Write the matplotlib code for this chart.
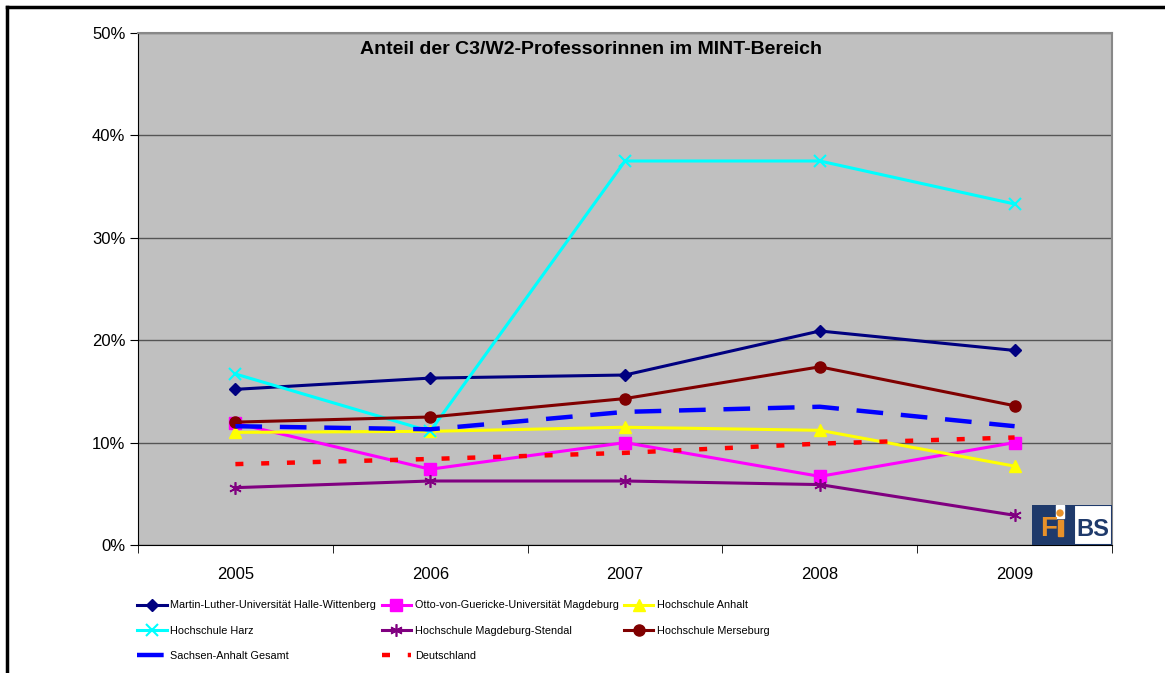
import matplotlib
matplotlib.use("Agg")
import matplotlib.pyplot as plt
from matplotlib.patches import Rectangle, Circle
from matplotlib.lines import Line2D
import matplotlib.ticker as mticker

years = ["2005", "2006", "2007", "2008", "2009"]

halle = [15.2, 16.3, 16.6, 20.9, 19.0]
magdeburg = [11.9, 7.4, 10.0, 6.7, 10.0]
anhalt = [11.0, 11.1, 11.5, 11.2, 7.7]
harz = [16.7, 11.1, 37.5, 37.5, 33.3]
stendal = [5.6, 6.25, 6.25, 5.9, 2.9]
merseburg = [12.0, 12.5, 14.3, 17.4, 13.6]
gesamt = [11.6, 11.3, 13.0, 13.5, 11.6]
deutschland = [7.9, 8.4, 9.0, 9.9, 10.5]

labels = ["Martin-Luther-Universität Halle-Wittenberg",
          "Otto-von-Guericke-Universität Magdeburg",
          "Hochschule Anhalt",
          "Hochschule Harz",
          "Hochschule Magdeburg-Stendal",
          "Hochschule Merseburg",
          "Sachsen-Anhalt Gesamt",
          "Deutschland"]

plt.rcParams['font.family'] = ['Liberation Sans', 'DejaVu Sans']

fig = plt.figure(figsize=(11.65, 6.73), dpi=100)
ax = fig.add_axes([138/1165, 1-545/673, (1112-138)/1165, (545-33)/673])
ax.set_facecolor("#C0C0C0")

x = [1, 2, 3, 4, 5]
lw = 2.2
h = []
h += ax.plot(x, halle, color="#000080", lw=lw, marker="D", ms=6.5)
h += ax.plot(x, magdeburg, color="#FF00FF", lw=lw, marker="s", ms=8)
h += ax.plot(x, anhalt, color="#FFFF00", lw=lw, marker="^", ms=8)
h += ax.plot(x, harz, color="#00FFFF", lw=lw, marker="x", ms=8, mew=1.5)
h += ax.plot(x, stendal, color="#800080", lw=lw, marker=(6, 2, 0), ms=9, mew=1.2)
h += ax.plot(x, merseburg, color="#800000", lw=lw, marker="o", ms=8)
h += ax.plot(x, gesamt, color="#0000FF", lw=3.2, dashes=(6.0, 4.0))
h += ax.plot(x, deutschland, color="#FF0000", lw=3.2, dashes=(1.8, 4.0))

ax.set_xlim(0.5, 5.5)
ax.set_ylim(0, 50)
ax.set_xticks(x)
ax.set_xticklabels(years)
ax.set_xticks([0.5, 1.5, 2.5, 3.5, 4.5, 5.5], minor=True)
ax.tick_params(axis="x", which="major", length=0, labelsize=12, pad=16)
ax.tick_params(axis="x", which="minor", length=6, direction="out", color="black")
ax.set_yticks([0, 10, 20, 30, 40, 50])
ax.yaxis.set_major_formatter(mticker.FuncFormatter(lambda v, p: "%d%%" % v))
ax.tick_params(axis="y", length=6, direction="out", labelsize=12, pad=3)

ax.grid(axis="y", color="#555555", lw=1)
ax.set_axisbelow(True)
for s in ["top", "right"]:
    ax.spines[s].set_color("#888888")
    ax.spines[s].set_linewidth(1.5)
ax.spines["left"].set_color("black")
ax.spines["bottom"].set_color("black")

ax.text(0.465, 0.968, "Anteil der C3/W2-Professorinnen im MINT-Bereich",
        transform=ax.transAxes, ha="center", va="center",
        fontsize=14, fontweight="bold")

# legend, order so that rows read left to right
order = [0, 3, 6, 1, 4, 7, 2, 5]
leg = fig.legend([h[i] for i in order], [labels[i] for i in order],
                 ncol=3, loc="upper left", bbox_to_anchor=(133/1165, 1-596/673),
                 frameon=False, handlelength=2.7, handletextpad=0.35,
                 columnspacing=0.5, labelspacing=1.4, borderaxespad=0,
                 fontsize=7.8)

# FiBS logo (1 unit = 1 px)
L = fig.add_axes([1032/1165, 1-545/673, 80/1165, 40/673])
L.set_xlim(0, 80)
L.set_ylim(0, 40)
L.axis("off")
L.add_patch(Rectangle((0, 0), 42, 40, color="#1F3A6B"))
L.add_patch(Rectangle((42, 0), 38, 40, facecolor="white", edgecolor="#1F3A6B", lw=1.5))
L.add_patch(Rectangle((24, 27), 8, 13, color="white"))
L.add_patch(Circle((28, 32), 3, color="#E8912A"))
L.add_patch(Rectangle((25.5, 9), 5, 16, color="#E8912A"))
L.text(8, 9, "F", color="#E8912A", fontsize=20, fontweight="bold", ha="left", va="baseline")
L.text(61, 9, "BS", color="#1F3A6B", fontsize=17, fontweight="bold", ha="center", va="baseline")

# outer frame (top and left only visible)
fig.add_artist(Line2D([7/1165, 1], [1-7/673, 1-7/673], color="black", lw=2.5, transform=fig.transFigure))
fig.add_artist(Line2D([7/1165, 7/1165], [0, 1-7/673], color="black", lw=2.5, transform=fig.transFigure))

fig.savefig("out.png", dpi=100)
